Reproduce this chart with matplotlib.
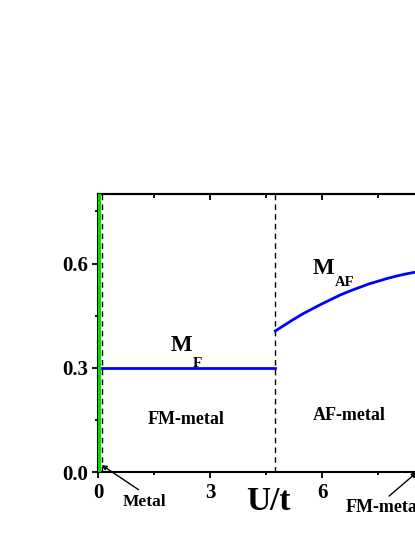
import matplotlib
matplotlib.use('Agg')
import matplotlib.pyplot as plt
from matplotlib.ticker import MultipleLocator

plt.rcParams['font.family'] = ['Liberation Serif', 'DejaVu Serif']
plt.rcParams['font.weight'] = 'bold'

W, H = 415, 537

# ferromagnetic moment (flat) between the two transitions
u_fm = [0.1, 4.75]
m_fm = [0.3, 0.3]

# antiferromagnetic moment after the jump
u_af = [4.75, 5.0, 5.25, 5.5, 5.75, 6.0, 6.25, 6.5, 6.75, 7.0,
        7.25, 7.5, 7.75, 8.0, 8.25, 8.5, 8.75, 9.0]
m_af = [0.406, 0.423, 0.440, 0.456, 0.470, 0.484, 0.497, 0.510, 0.521, 0.531,
        0.541, 0.549, 0.557, 0.564, 0.570, 0.575, 0.580, 0.583]

u_metal = 0.04          # green line (metal phase)
u_trans = [0.1, 4.75]   # dashed phase boundaries

xticks = [0, 3, 6]
yticks = [0.0, 0.3, 0.6]


def px(x, y):
    # pixel position measured from the top-left corner
    return x, H - y


fig = plt.figure(figsize=(W / 100, H / 100), dpi=100)
ax = fig.add_axes([98 / W, 65 / H, 336 / W, 278 / H])

ax.axvline(u_metal, color='#00dd00', lw=3.0, zorder=3)
for u in u_trans:
    ax.axvline(u, color='black', lw=1.0, ls=(0, (4, 3)), zorder=4)

ax.plot(u_fm, m_fm, color='blue', lw=2.0, zorder=5)
ax.plot(u_af, m_af, color='blue', lw=2.0, zorder=5)

ax.set_xlim(0, 9)
ax.set_ylim(0, 0.8)
ax.set_xticks(xticks)
ax.set_yticks(yticks)
ax.set_yticklabels(['%.1f' % y for y in yticks])
ax.xaxis.set_minor_locator(MultipleLocator(1.5))
ax.yaxis.set_minor_locator(MultipleLocator(0.15))

ax.tick_params(axis='both', which='major', labelsize=15, width=1.3, length=4, direction='out')
ax.tick_params(axis='both', which='minor', width=1.3, length=2.5, direction='out')
ax.tick_params(axis='x', pad=4)
ax.tick_params(axis='y', pad=3)
for lab in ax.get_xticklabels() + ax.get_yticklabels():
    lab.set_fontweight('bold')

# top axis ticks point inward
top = ax.secondary_xaxis('top')
top.set_xticks(xticks)
top.xaxis.set_minor_locator(MultipleLocator(1.5))
top.tick_params(which='major', direction='in', length=4, width=1.3, labeltop=False)
top.tick_params(which='minor', direction='in', length=3, width=1.3)
top.spines['top'].set_linewidth(1.5)

for s in ax.spines.values():
    s.set_linewidth(1.5)

ax.text(*px(171, 351), 'M', transform=None, fontsize=16.5, fontweight='bold', va='baseline')
ax.text(*px(193, 367), 'F', transform=None, fontsize=11, fontweight='bold', va='baseline')
ax.text(*px(313, 274), 'M', transform=None, fontsize=16.5, fontweight='bold', va='baseline')
ax.text(*px(335, 286), 'AF', transform=None, fontsize=10.5, fontweight='bold', va='baseline')

ax.text(*px(186, 419), 'FM-metal', transform=None, fontsize=13, fontweight='bold',
        ha='center', va='center')
ax.text(*px(349, 415), 'AF-metal', transform=None, fontsize=13, fontweight='bold',
        ha='center', va='center')
ax.text(*px(268, 501), 'U/t', transform=None, fontsize=24, fontweight='bold',
        ha='center', va='center')

ax.annotate('Metal', xy=(0.1, 0.02), xycoords='data',
            xytext=px(145, 502), textcoords='figure pixels',
            fontsize=12.5, fontweight='bold', ha='center', va='center',
            arrowprops=dict(arrowstyle='-|>', color='black', lw=1.0,
                            mutation_scale=7, shrinkA=2, shrinkB=0,
                            relpos=(0.5, 1.0)))
ax.annotate('FM-metal', xy=(8.55, 0.0), xycoords='data',
            xytext=px(346, 508), textcoords='figure pixels',
            fontsize=13, fontweight='bold', ha='left', va='center',
            arrowprops=dict(arrowstyle='-|>', color='black', lw=1.0,
                            mutation_scale=8, shrinkA=0, shrinkB=0,
                            relpos=(0.56, 1.2)))

fig.savefig('out.png', dpi=100)
